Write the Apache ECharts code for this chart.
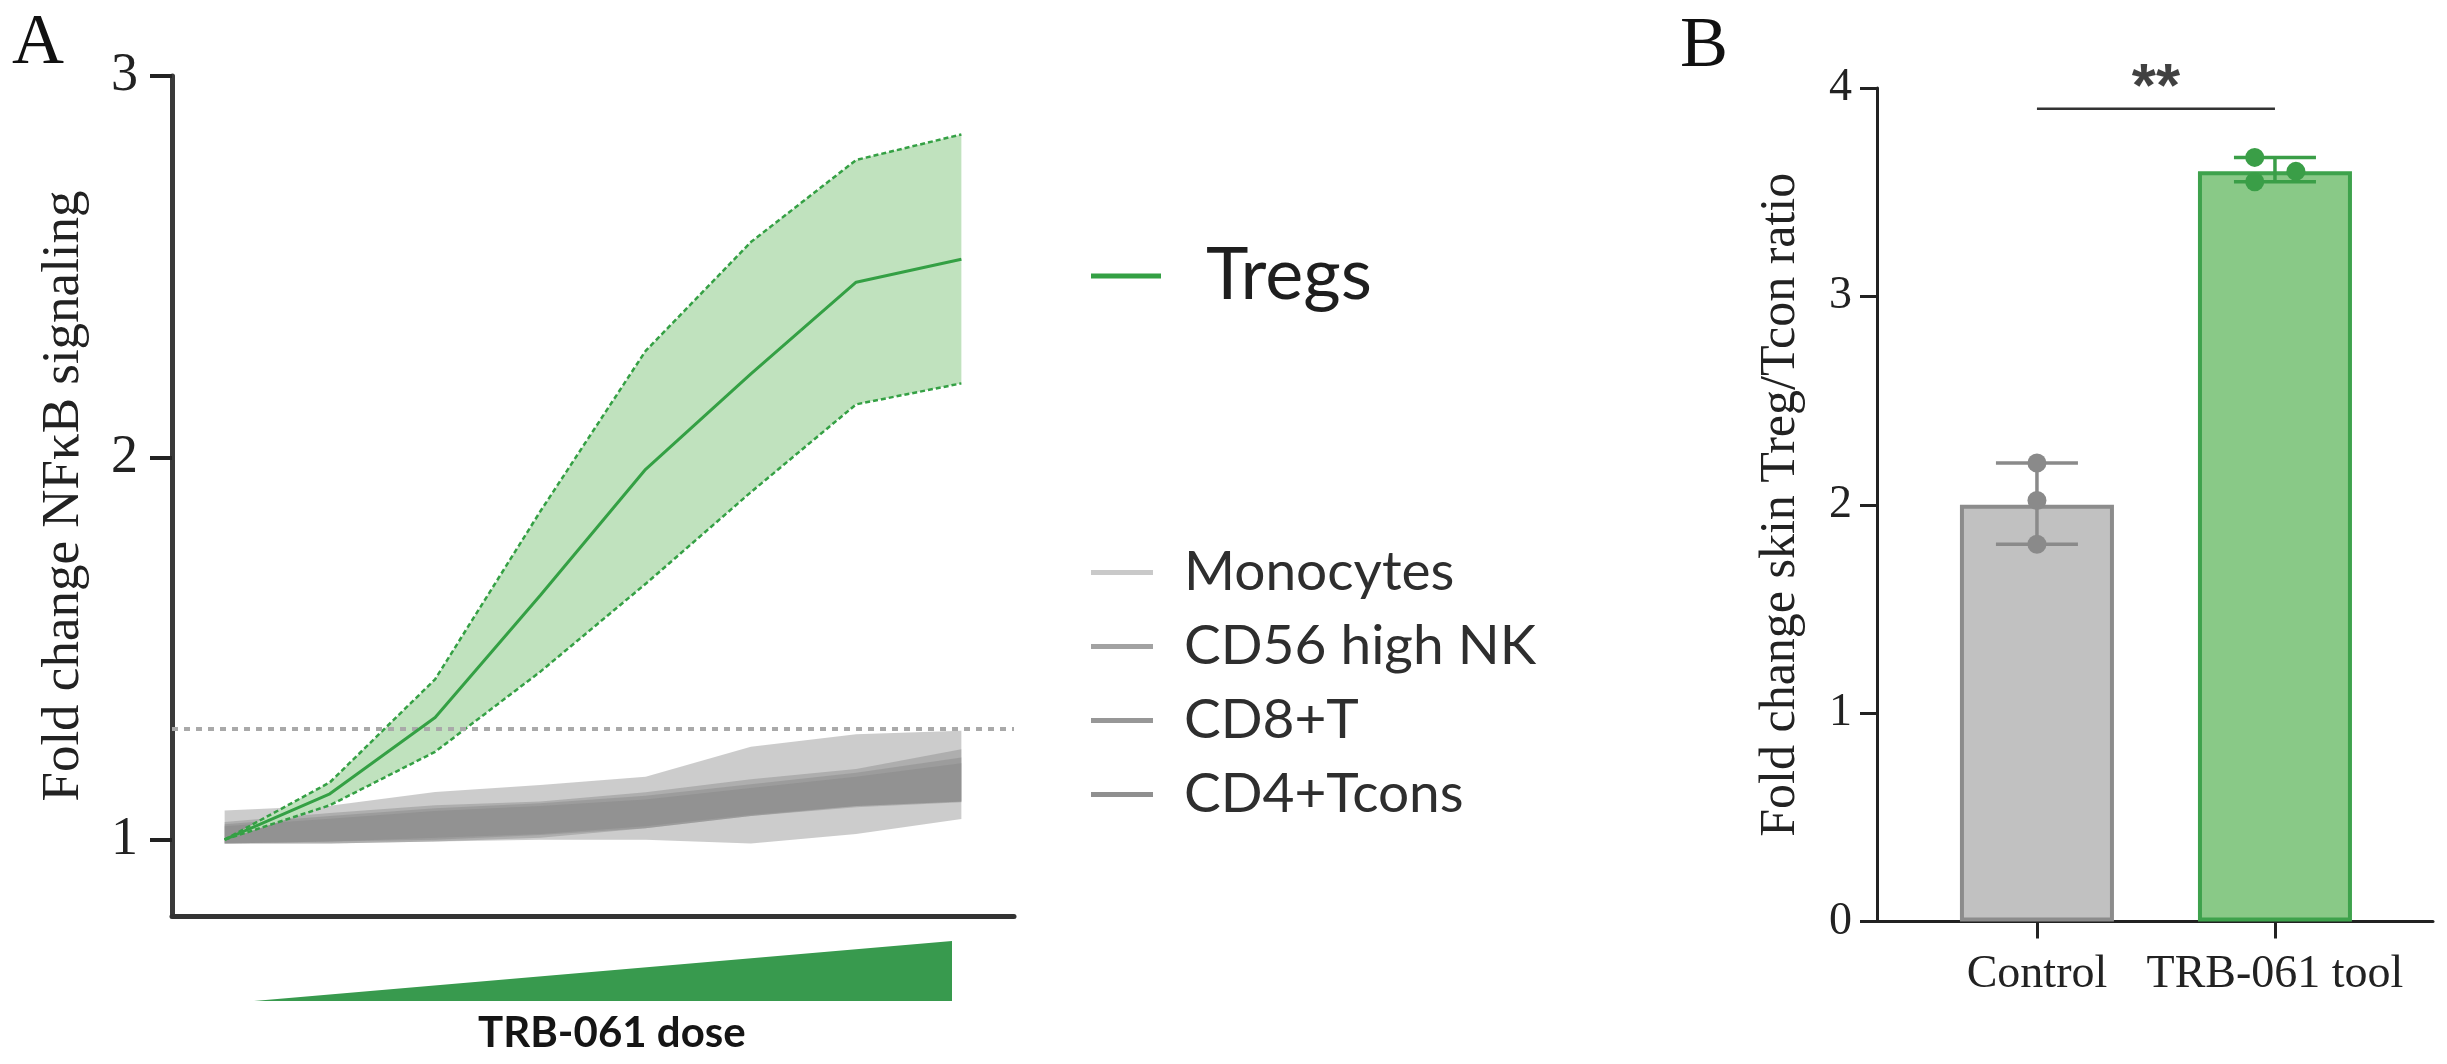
<!DOCTYPE html>
<html>
<head>
<meta charset="utf-8">
<script src="https://cdn.jsdelivr.net/npm/echarts@6/dist/echarts.min.js"></script>
<style>
html,body{margin:0;padding:0;background:#fff;}
#chart{width:2447px;height:1064px;}
</style>
</head>
<body>
<div id="chart"></div>
<script>
// ---------- Panel A data ----------
const doseLevels = ['D1','D2','D3','D4','D5','D6','D7','D8'];
const tregMean  = [1.00, 1.12, 1.32, 1.64, 1.97, 2.22, 2.46, 2.52];
const tregUpper = [1.00, 1.15, 1.42, 1.86, 2.28, 2.565, 2.78, 2.847];
const tregLower = [1.00, 1.09, 1.23, 1.44, 1.67, 1.91, 2.14, 2.195];

const monoUpper = [1.076, 1.089, 1.125, 1.143, 1.165, 1.243, 1.276, 1.285];
const monoLower = [0.990, 0.990, 0.995, 1.005, 1.030, 1.062, 1.085, 1.098];
const nkUpper   = [1.046, 1.070, 1.090, 1.100, 1.124, 1.158, 1.185, 1.237];
const nkLower   = [0.990, 0.990, 0.995, 1.000, 1.000, 0.990, 1.015, 1.054];
const cd8Upper  = [1.040, 1.062, 1.082, 1.095, 1.115, 1.145, 1.175, 1.215];
const cd8Lower  = [0.990, 0.995, 1.005, 1.015, 1.035, 1.065, 1.088, 1.100];
const cd4Upper  = [1.035, 1.055, 1.075, 1.088, 1.105, 1.135, 1.165, 1.200];
const cd4Lower  = [0.990, 0.995, 1.000, 1.012, 1.030, 1.062, 1.088, 1.100];

const grayNames = ['Monocytes', 'CD56 high NK', 'CD8+T', 'CD4+Tcons'];
const thresholdLevel = 1.29;
const aTicks = [1, 2, 3];

// ---------- Panel B data ----------
const groups = ['Control', 'TRB-061 tool'];
const barMeans = [2.0, 3.6];
const errLow = [1.81, 3.55];
const errHigh = [2.20, 3.667];
const controlPoints = [2.20, 2.02, 1.81];
const trbPoints = [3.667, 3.55, 3.60];
const trbJitter = [-0.085, -0.085, 0.088];
const sigLevel = 3.9;
const sigLabel = '**';

// ---------- styles ----------
const GREEN = '#34a044';
const SERIF = "'Liberation Serif', 'DejaVu Serif', serif";
const SANS = "Lato, 'Open Sans', sans-serif";
const bandFill = '#848484';
const legendGray = ['#c9c9c9', '#a2a2a2', '#979797', '#8f8f8f'];

const grayBands = [
  [monoLower, monoUpper],
  [nkLower, nkUpper],
  [cd8Lower, cd8Upper],
  [cd4Lower, cd4Upper]
];

const series = [];
grayBands.forEach((b, i) => {
  const lower = b[0], upper = b[1];
  series.push({
    type: 'line', xAxisIndex: 0, yAxisIndex: 0, stack: 'g' + i,
    data: lower, symbol: 'none', silent: true,
    lineStyle: { opacity: 0 }
  });
  series.push({
    type: 'line', name: grayNames[i], xAxisIndex: 0, yAxisIndex: 0, stack: 'g' + i,
    data: upper.map((u, k) => +(u - lower[k]).toFixed(4)),
    symbol: 'none', silent: true,
    lineStyle: { opacity: 0 },
    itemStyle: { color: legendGray[i] },
    areaStyle: { color: bandFill, opacity: 0.41 }
  });
});

// Tregs band
series.push({
  type: 'line', xAxisIndex: 0, yAxisIndex: 0, stack: 'treg',
  data: tregLower, symbol: 'none', silent: true, z: 4,
  lineStyle: { color: GREEN, width: 2.5, type: [5, 3] }
});
series.push({
  type: 'line', name: 'Tregs band', xAxisIndex: 0, yAxisIndex: 0, stack: 'treg',
  data: tregUpper.map((u, k) => +(u - tregLower[k]).toFixed(4)),
  symbol: 'none', silent: true, z: 3,
  lineStyle: { color: GREEN, width: 2.5, type: [5, 3] },
  areaStyle: { color: '#bde0bb', opacity: 0.95 }
});
series.push({
  type: 'line', name: 'Tregs', xAxisIndex: 0, yAxisIndex: 0,
  data: tregMean, symbol: 'none', silent: true, z: 5,
  itemStyle: { color: GREEN },
  lineStyle: { color: GREEN, width: 3 },
  markLine: {
    silent: true, symbol: ['none', 'none'], label: { show: false },
    lineStyle: { color: '#a9a9a9', type: [6, 6], width: 4 },
    data: [{ yAxis: thresholdLevel }]
  }
});

// Panel B
const barFills = ['#c1c1c1', '#89c987'];
const barBorders = ['#8c8c8c', '#3ea24c'];
const pointColors = ['#8a8a8a', '#3a9e47'];

series.push({
  type: 'bar', xAxisIndex: 1, yAxisIndex: 1, barWidth: 154, silent: true,
  data: groups.map((g, i) => ({
    value: [i + 1, barMeans[i]],
    itemStyle: { color: barFills[i], borderColor: barBorders[i], borderWidth: 4 }
  }))
});
series.push({
  type: 'custom', xAxisIndex: 1, yAxisIndex: 1, silent: true, z: 5,
  data: groups.map((g, i) => [i + 1, errLow[i], errHigh[i]]),
  encode: { x: 0, y: [1, 2] },
  renderItem: function (params, api) {
    const x = api.value(0);
    const pLo = api.coord([x, api.value(1)]);
    const pHi = api.coord([x, api.value(2)]);
    const hw = 41;
    const col = pointColors[params.dataIndex];
    const st = { stroke: col, lineWidth: 3.5 };
    return {
      type: 'group',
      children: [
        { type: 'line', shape: { x1: pLo[0], y1: pLo[1], x2: pHi[0], y2: pHi[1] }, style: st },
        { type: 'line', shape: { x1: pHi[0] - hw, y1: pHi[1], x2: pHi[0] + hw, y2: pHi[1] }, style: st },
        { type: 'line', shape: { x1: pLo[0] - hw, y1: pLo[1], x2: pLo[0] + hw, y2: pLo[1] }, style: st }
      ]
    };
  }
});
series.push({
  type: 'scatter', xAxisIndex: 1, yAxisIndex: 1, silent: true, z: 6,
  symbolSize: 19, itemStyle: { color: pointColors[0], opacity: 1 },
  data: controlPoints.map(v => [1, v])
});
series.push({
  type: 'scatter', xAxisIndex: 1, yAxisIndex: 1, silent: true, z: 6,
  symbolSize: 19, itemStyle: { color: pointColors[1], opacity: 1 },
  data: trbPoints.map((v, i) => [2 + trbJitter[i], v])
});
series.push({
  type: 'line', xAxisIndex: 1, yAxisIndex: 1, silent: true,
  data: [[1, sigLevel], [2, sigLevel]], symbol: 'none',
  lineStyle: { color: '#333', width: 2.5 }
});
series.push({
  type: 'scatter', xAxisIndex: 1, yAxisIndex: 1, silent: true,
  data: [[1.5, sigLevel]], symbolSize: 0,
  label: {
    show: true, position: 'inside', offset: [0, -20], formatter: sigLabel,
    fontSize: 62, fontWeight: 'bold', color: '#111',
    fontFamily: "'Liberation Sans', Arial, sans-serif"
  }
});

const option = {
  animation: false,
  backgroundColor: '#ffffff',
  legend: [
    {
      left: 1086, top: 235, orient: 'vertical',
      itemWidth: 70, itemHeight: 5, icon: 'rect',
      textStyle: { fontSize: 72, fontFamily: SANS, color: '#1e1e1e', padding: [0, 0, 0, 40] },
      data: [{ name: 'Tregs', itemStyle: { color: GREEN } }],
      selectedMode: false
    },
    {
      left: 1086, top: 540, orient: 'vertical', itemGap: 19,
      itemWidth: 62, itemHeight: 5, icon: 'rect',
      textStyle: { fontSize: 55, fontFamily: SANS, color: '#2e2e2e', padding: [0, 0, 0, 26] },
      data: grayNames.map((n, i) => ({ name: n, itemStyle: { color: legendGray[i] } })),
      selectedMode: false
    }
  ],
  grid: [
    { left: 172, top: 76, width: 842, height: 840 },
    { left: 1877, top: 88, width: 556, height: 833.5 }
  ],
  xAxis: [
    {
      type: 'category', gridIndex: 0, data: doseLevels, boundaryGap: true,
      axisLine: { lineStyle: { color: '#333', width: 5 } },
      axisTick: { show: false }, axisLabel: { show: false }, splitLine: { show: false }
    },
    {
      type: 'value', gridIndex: 1, min: 0.328, max: 2.664,
      axisLine: { lineStyle: { color: '#222', width: 3 } },
      axisTick: { show: true, customValues: [1, 2], length: 17, lineStyle: { color: '#222', width: 3 } },
      axisLabel: {
        customValues: [1, 2], margin: 30,
        formatter: v => groups[Math.round(v) - 1] || '',
        fontSize: 46, fontFamily: SERIF, color: '#222'
      },
      splitLine: { show: false }
    }
  ],
  yAxis: [
    {
      type: 'value', gridIndex: 0, min: 0.8, max: 3,
      axisLine: { show: true, lineStyle: { color: '#3a3a3a', width: 5 } },
      axisTick: { show: true, customValues: aTicks, length: 22, lineStyle: { color: '#222', width: 4 } },
      axisLabel: { customValues: aTicks, margin: 34, fontSize: 54, fontFamily: SERIF, color: '#222' },
      splitLine: { show: false },
      name: 'Fold change NFκB signaling', nameLocation: 'middle', nameGap: 81,
      nameTextStyle: { fontSize: 53, fontFamily: SERIF, color: '#222' }
    },
    {
      type: 'value', gridIndex: 1, min: 0, max: 4, interval: 1,
      axisLine: { show: true, lineStyle: { color: '#222', width: 3 } },
      axisTick: { show: true, length: 17, lineStyle: { color: '#222', width: 3 } },
      axisLabel: { margin: 25, fontSize: 46, fontFamily: SERIF, color: '#222' },
      splitLine: { show: false },
      name: 'Fold change skin Treg/Tcon ratio', nameLocation: 'middle', nameGap: 71,
      nameTextStyle: { fontSize: 50, fontFamily: SERIF, color: '#222' }
    }
  ],
  graphic: [
    { type: 'text', left: 12, top: 8, style: { text: 'A', fontSize: 72, fontFamily: SERIF, fill: '#111' } },
    { type: 'text', left: 1680, top: 11, style: { text: 'B', fontSize: 72, fontFamily: SERIF, fill: '#111' } },
    { type: 'polygon', shape: { points: [[254, 1001], [952, 941], [952, 1001]] }, style: { fill: '#389a4e' } },
    { type: 'text', left: 478, top: 1012, style: { text: 'TRB-061 dose', fontSize: 42, fontWeight: 'bold', fontFamily: SANS, fill: '#151515' } }
  ],
  series: series
};

const chart = echarts.init(document.getElementById('chart'), null, { renderer: 'canvas' });
chart.setOption(option);
</script>
</body>
</html>
